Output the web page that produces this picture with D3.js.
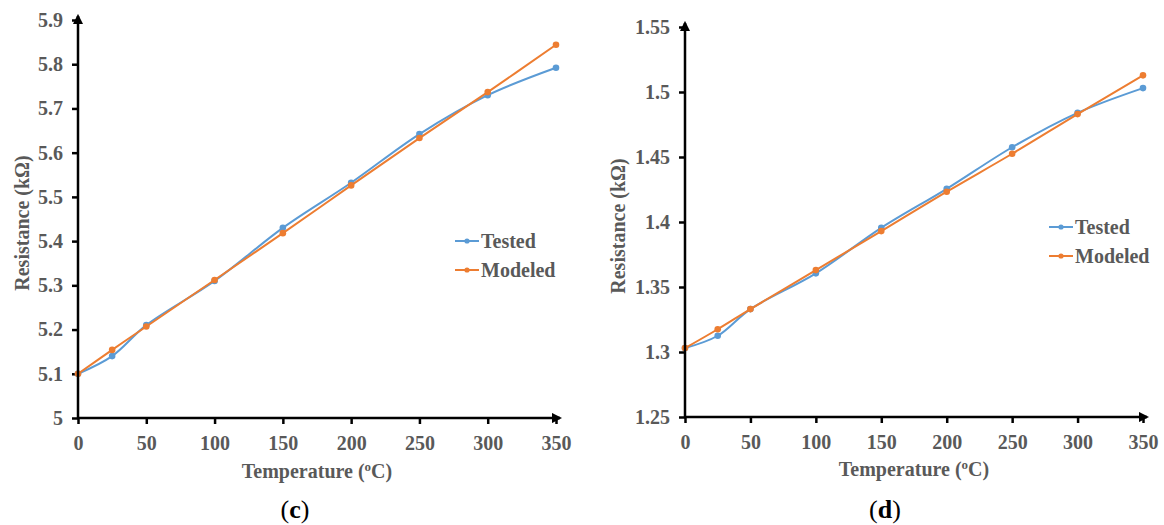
<!DOCTYPE html>
<html>
<head>
<meta charset="utf-8">
<script src="https://cdn.jsdelivr.net/npm/d3@7"></script>
<style>
  html, body { margin: 0; padding: 0; background: #fff; }
  svg { display: block; }
  text { font-family: "Liberation Serif", "Times New Roman", serif; }
</style>
</head>
<body>
<svg id="chart" width="1164" height="525"></svg>
<script>
// Temperature steps (°C)
const temps = [0, 25, 50, 100, 150, 200, 250, 300, 350];

// Panel (c): resistance in kΩ
const testedC  = [5.100, 5.140, 5.210, 5.310, 5.430, 5.532, 5.642, 5.730, 5.792];
const modeledC = [5.100, 5.154, 5.207, 5.312, 5.418, 5.526, 5.633, 5.737, 5.844];

// Panel (d): resistance in kΩ
const testedD  = [1.303, 1.3125, 1.333, 1.3605, 1.3955, 1.4255, 1.4575, 1.484, 1.503];
const modeledD = [1.303, 1.3175, 1.333, 1.363, 1.393, 1.4233, 1.4525, 1.483, 1.5128];

// Axis ticks
const xTicks  = [0, 50, 100, 150, 200, 250, 300, 350];
const yTicksC = [5, 5.1, 5.2, 5.3, 5.4, 5.5, 5.6, 5.7, 5.8, 5.9];
const yTicksD = [1.25, 1.3, 1.35, 1.4, 1.45, 1.5, 1.55];

const seriesNames = ["Tested", "Modeled"];
const colors = { Tested: "#5B9BD5", Modeled: "#ED7D31" };
const textGray = "#595959";
const serif = "'Liberation Serif', 'Times New Roman', serif";

const svg = d3.select("#chart");

const defs = svg.append("defs");
defs.append("marker")
  .attr("id", "arrow")
  .attr("viewBox", "0 0 10 10")
  .attr("refX", 8).attr("refY", 5)
  .attr("markerWidth", 4.2).attr("markerHeight", 4.2)
  .attr("markerUnits", "strokeWidth")
  .attr("orient", "auto")
  .append("path")
  .attr("d", "M0,0 L10,5 L0,10 Z")
  .attr("fill", "#000");

function drawPanel(p) {
  const x = d3.scaleLinear().domain([0, 350]).range(p.xRange);
  const y = d3.scaleLinear().domain(p.yDomain).range(p.yRange);
  const g = svg.append("g").attr("font-family", serif);

  // tick labels & marks
  const fmt = d => String(+d.toFixed(2));
  const yAxis = d3.axisLeft(y).tickValues(p.yTicks).tickFormat(fmt).tickSize(6).tickPadding(9);
  const xAxis = d3.axisBottom(x).tickValues(xTicks).tickFormat(fmt).tickSize(6).tickPadding(12);

  const gy = g.append("g").attr("transform", `translate(${p.xRange[0]},0)`).call(yAxis);
  const gx = g.append("g").attr("transform", `translate(0,${p.yRange[0]})`).call(xAxis);
  [gx, gy].forEach(a => {
    a.attr("font-family", serif);
    a.select(".domain").remove();
    a.selectAll(".tick line").attr("stroke", "#000").attr("stroke-width", 2.5);
    a.selectAll(".tick text")
      .attr("fill", textGray)
      .attr("font-size", 20)
      .attr("font-weight", "bold")
      .attr("font-family", serif);
  });

  // series lines
  const line = d3.line()
    .x((d, i) => x(temps[i]))
    .y(d => y(d))
    .curve(d3.curveCatmullRom.alpha(0.5));

  [["Tested", p.tested], ["Modeled", p.modeled]].forEach(([name, vals]) => {
    g.append("path")
      .datum(vals)
      .attr("fill", "none")
      .attr("stroke", colors[name])
      .attr("stroke-width", 2)
      .attr("d", line);
    g.selectAll(null)
      .data(vals)
      .enter().append("circle")
      .attr("cx", (d, i) => x(temps[i]))
      .attr("cy", d => y(d))
      .attr("r", 3.3)
      .attr("fill", colors[name]);
  });

  // axis lines with arrowheads
  g.append("line")
    .attr("x1", p.xRange[0]).attr("x2", p.xRange[0])
    .attr("y1", p.yRange[0] + 1).attr("y2", p.yRange[1] - 4)
    .attr("stroke", "#000").attr("stroke-width", 2.5)
    .attr("marker-end", "url(#arrow)");
  g.append("line")
    .attr("x1", p.xRange[0] - 1).attr("x2", p.xRange[1] + 4)
    .attr("y1", p.yRange[0]).attr("y2", p.yRange[0])
    .attr("stroke", "#000").attr("stroke-width", 2.5)
    .attr("marker-end", "url(#arrow)");

  // axis titles
  const xt = g.append("text")
    .attr("x", (p.xRange[0] + p.xRange[1]) / 2)
    .attr("y", p.xTitleY)
    .attr("text-anchor", "middle")
    .attr("fill", textGray)
    .attr("font-size", 20)
    .attr("font-weight", "bold");
  xt.append("tspan").text("Temperature (");
  xt.append("tspan").attr("font-size", 13).attr("dy", -7).text("o");
  xt.append("tspan").attr("dy", 7).text("C)");

  g.append("text")
    .attr("transform", `translate(${p.yTitleX},${(p.yRange[0] + p.yRange[1]) / 2 + 4}) rotate(-90)`)
    .attr("text-anchor", "middle")
    .attr("fill", textGray)
    .attr("font-size", 20)
    .attr("font-weight", "bold")
    .text("Resistance (kΩ)");

  // legend
  seriesNames.forEach((name, i) => {
    const ly = p.legend[1] + i * 29;
    g.append("line")
      .attr("x1", p.legend[0]).attr("x2", p.legend[0] + 24)
      .attr("y1", ly).attr("y2", ly)
      .attr("stroke", colors[name]).attr("stroke-width", 2);
    g.append("circle")
      .attr("cx", p.legend[0] + 12).attr("cy", ly).attr("r", 2.6)
      .attr("fill", colors[name]);
    g.append("text")
      .attr("x", p.legend[0] + 26).attr("y", ly + 7)
      .attr("fill", textGray)
      .attr("font-size", 20)
      .attr("font-weight", "bold")
      .text(name);
  });

  // panel label
  const lab = g.append("text")
    .attr("x", p.label[0]).attr("y", p.label[1])
    .attr("text-anchor", "middle")
    .attr("fill", "#000")
    .attr("font-size", 26);
  lab.append("tspan").text("(");
  lab.append("tspan").attr("font-weight", "bold").text(p.labelText);
  lab.append("tspan").text(")");
}

drawPanel({
  xRange: [78, 556], yDomain: [5, 5.9], yRange: [418, 20],
  yTicks: yTicksC, tested: testedC, modeled: modeledC,
  xTitleY: 478, yTitleX: 29, legend: [455, 241],
  label: [295, 518], labelText: "c"
});

drawPanel({
  xRange: [685, 1143], yDomain: [1.25, 1.55], yRange: [417, 27],
  yTicks: yTicksD, tested: testedD, modeled: modeledD,
  xTitleY: 476, yTitleX: 625, legend: [1049, 227],
  label: [885, 518], labelText: "d"
});
</script>
</body>
</html>
